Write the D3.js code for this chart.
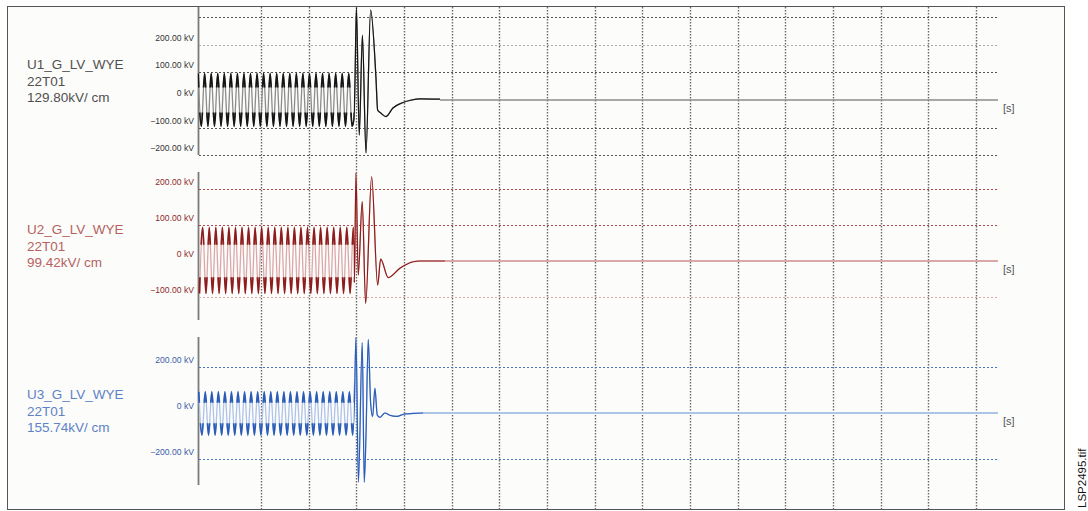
<!DOCTYPE html>
<html>
<head>
<meta charset="utf-8">
<script src="https://cdn.jsdelivr.net/npm/d3@7"></script>
<style>
  body { margin: 0; background: #fff; }
  text { font-family: "Liberation Sans", Arial, sans-serif; }
</style>
</head>
<body>
<svg width="1088" height="511"></svg>
<script>
// channel info
const channelNames = ["U1_G_LV_WYE", "U2_G_LV_WYE", "U3_G_LV_WYE"];
const channelTags = ["22T01", "22T01", "22T01"];
const channelKvPerCm = [129.80, 99.42, 155.74];

// tick labels (kV) and dotted grid rows for each channel
const tickValues = [[200, 100, 0, -100, -200], [200, 100, 0, -100], [200, 0, -200]];
const gridValues = [[300, 200, 100, -100, -200], [200, 100, -100], [200, -200]];

// time grid [s]
const timeGrid = [0, 0.1, 0.2, 0.3, 0.4, 0.5, 0.6, 0.7, 0.8, 0.9, 1.0, 1.1, 1.2, 1.3, 1.4, 1.5];
const timeDomain = [-0.132, 1.546];

// pre-fault peaks (kV), sampled every half cycle
const halfCycle = 0.00687;
const u1Start = -0.1318, u2Start = -0.1290, u3Start = -0.1305;
const u1Peaks = [96,-95,96,-95,96,-95,96,-95,96,-95,96,-95,96,-95,96,-95,96,-95,96,-95,96,-95,96,-95,
                 96,-95,96,-95,96,-95,96,-95,96,-95,96,-95,96,-95,96,-95,96,-95,96,-95,96,-95,96,-95];
const u2Peaks = [-90,93,-90,93,-90,93,-90,93,-90,93,-90,93,-90,93,-90,93,-90,93,-90,93,-90,93,-90,93,
                 -90,93,-90,93,-90,93,-90,93,-90,93,-90,93,-90,93,-90,93,-90,93,-90,93,-90,93,-90,93];
const u3Peaks = [92,-96,92,-96,92,-96,92,-96,92,-96,92,-96,92,-96,92,-96,92,-96,92,-96,92,-96,92,-96,
                 92,-96,92,-96,92,-96,92,-96,92,-96,92,-96,92,-96,92,-96,92,-96,92,-96,92,-96,92,-96];

// fault transient [t s, kV]
const u1Fault = [[0.1951,-70],[0.1972,60],[0.2003,335],[0.2062,-127],[0.2129,235],[0.2203,-192],
                 [0.2301,326],[0.2412,83],[0.2448,-36],[0.2511,-47],[0.2622,-60],[0.2769,-29],
                 [0.2952,-11],[0.3161,0],[0.3335,4],[0.3755,3]];
const u2Fault = [[0.1961,-60],[0.1993,244],[0.2041,-39],[0.2125,165],[0.2196,-118],[0.2322,234],
                 [0.2448,-67],[0.2511,5],[0.2670,-46],[0.2916,-20],[0.3195,-2],[0.3335,0],[0.3860,0]];
const u3Fault = [[0.1961,50],[0.1993,328],[0.2045,-301],[0.2125,306],[0.2167,-301],[0.2203,-104],
                 [0.2251,320],[0.2301,43],[0.2343,-16],[0.2391,108],[0.2440,-9],[0.2496,-19],
                 [0.2601,0],[0.2706,-10],[0.2847,-15],[0.3021,-4],[0.3195,-2],[0.3405,0]];

const faultTime = 0.195;

const svg = d3.select("svg"),
    width = +svg.attr("width"),
    height = +svg.attr("height");

const pxPerCm = 35.8;
const panels = [
    { top: 6, zero: 100, dark: "#151515", light: "#8c8c8c", grid: "#555", gridLight: "#aaa",
      name: "#505050", tick: "#333", peaks: u1Peaks, start: u1Start, fault: u1Fault },
    { top: 171, zero: 261, dark: "#8e1c1c", light: "#dba8a8", grid: "#b04848", gridLight: "#e2a8a8",
      name: "#b5625f", tick: "#8e2a2a", peaks: u2Peaks, start: u2Start, fault: u2Fault },
    { top: 336, zero: 413, dark: "#2a5cb8", light: "#aec3e8", grid: "#4a72c4", gridLight: "#9ab3e0",
      name: "#5d82c6", tick: "#3a5ca8", peaks: u3Peaks, start: u3Start, fault: u3Fault }
];

const x = d3.scaleLinear().domain(timeDomain).range([198, 998]);

// frame
svg.append("rect")
    .attr("x", 7.5).attr("y", 6.5)
    .attr("width", 1057).attr("height", 503)
    .attr("fill", "#fcfcfb")
    .attr("stroke", "#555")
    .attr("stroke-width", 1);

// vertical time grid
svg.append("g")
    .selectAll("line")
    .data(timeGrid)
    .join("line")
    .attr("x1", d => Math.round(x(d)) + 0.5)
    .attr("x2", d => Math.round(x(d)) + 0.5)
    .attr("y1", 7)
    .attr("y2", 510)
    .attr("stroke", "#6a6a6a")
    .attr("stroke-width", 1.4)
    .attr("stroke-dasharray", "1.5,1.5");

panels.forEach((p, i) => {
    const y = d3.scaleLinear().domain([0, channelKvPerCm[i]]).range([p.zero, p.zero - pxPerCm]);
    const g = svg.append("g");

    // y axis segment
    g.append("line")
        .attr("x1", 198.5).attr("x2", 198.5)
        .attr("y1", i === 0 ? 7 : p.top + 1)
        .attr("y2", p.top + 149)
        .attr("stroke", "#7a7a7a")
        .attr("stroke-width", 1.8);

    // dotted value rows
    g.selectAll(".row")
        .data(gridValues[i])
        .join("line")
        .attr("class", "row")
        .attr("x1", 199).attr("x2", 998)
        .attr("y1", d => Math.round(y(d)) + 0.5)
        .attr("y2", d => Math.round(y(d)) + 0.5)
        .attr("stroke", d => (i === 0 && d === 200) || (i === 1 && d < 0) ? p.gridLight : p.grid)
        .attr("stroke-width", 1.2)
        .attr("stroke-dasharray", "2,2");

    // tick labels
    g.selectAll(".tick")
        .data(tickValues[i])
        .join("text")
        .attr("class", "tick")
        .attr("x", 194)
        .attr("y", d => y(d) - 4)
        .attr("text-anchor", "end")
        .attr("font-size", 8.6)
        .attr("fill", p.tick)
        .text(d => d === 0 ? "0 kV" : d3.format(".2f")(d) + " kV");

    // channel label
    const lbl = [channelNames[i], channelTags[i], d3.format(".2f")(channelKvPerCm[i]) + "kV/ cm"];
    g.selectAll(".name")
        .data(lbl)
        .join("text")
        .attr("class", "name")
        .attr("x", 27)
        .attr("y", (d, k) => p.top + 63 + k * 16.5)
        .attr("font-size", 13.5)
        .attr("fill", p.name)
        .text(d => d);

    // unit
    g.append("text")
        .attr("x", 1003)
        .attr("y", p.zero + 12)
        .attr("font-size", 11)
        .attr("fill", "#555")
        .text("[s]");

    // signal
    const pts = p.peaks.map((v, k) => [p.start + k * halfCycle, v]).concat(p.fault);
    const line = d3.line()
        .x(d => x(d[0]))
        .y(d => y(d[1]))
        .curve(d3.curveMonotoneX);

    const last = pts[pts.length - 1];

    // light trace and flat tail
    g.append("line")
        .attr("x1", x(last[0])).attr("x2", 998)
        .attr("y1", y(0)).attr("y2", y(0))
        .attr("stroke", p.light)
        .attr("stroke-width", i === 0 ? 1.6 : 2);

    g.append("path")
        .datum(pts)
        .attr("d", line)
        .attr("fill", "none")
        .attr("stroke", p.light)
        .attr("stroke-width", 1.3);

    // dark part: near peaks before the fault
    const clipId = "clip" + i;
    const cp = svg.append("clipPath").attr("id", clipId);
    cp.append("rect")
        .attr("x", 198).attr("width", x(faultTime) - 198)
        .attr("y", p.top - 10).attr("height", y(45) - p.top + 10);
    cp.append("rect")
        .attr("x", 198).attr("width", x(faultTime) - 198)
        .attr("y", y(-45)).attr("height", p.top + 165 - y(-45));

    g.append("path")
        .datum(pts)
        .attr("d", line)
        .attr("clip-path", "url(#" + clipId + ")")
        .attr("fill", "none")
        .attr("stroke", p.dark)
        .attr("stroke-width", 1.8);

    // dark part after the fault, thinner
    const clipId2 = "clipf" + i;
    svg.append("clipPath").attr("id", clipId2)
        .append("rect")
        .attr("x", x(faultTime)).attr("width", 998 - x(faultTime))
        .attr("y", p.top - 10).attr("height", 180);

    g.append("path")
        .datum(pts)
        .attr("d", line)
        .attr("clip-path", "url(#" + clipId2 + ")")
        .attr("fill", "none")
        .attr("stroke", p.dark)
        .attr("stroke-width", 1.2);
});

// file tag
svg.append("text")
    .attr("transform", "translate(1086,508) rotate(-90)")
    .attr("font-size", 11.5)
    .attr("fill", "#111")
    .text("LSP2495.tif");
</script>
</body>
</html>
